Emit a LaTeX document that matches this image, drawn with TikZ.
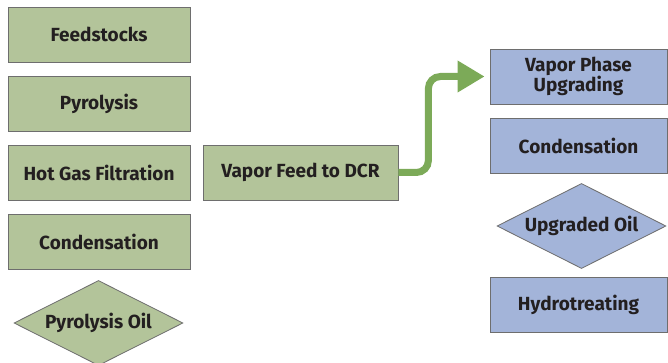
\documentclass[tikz,border=0pt]{standalone}
\usepackage{fontspec}
\setmainfont{Fira Sans}
\usetikzlibrary{shapes.geometric,arrows.meta}
\definecolor{boxgreen}{RGB}{179,196,154}
\definecolor{boxblue}{RGB}{163,180,217}
\definecolor{flowgreen}{RGB}{124,170,88}
\definecolor{edgegray}{RGB}{110,110,110}
\definecolor{inkdark}{RGB}{35,31,32}
\tikzset{
  stage/.style={draw=edgegray, line width=0.8pt, minimum height=55pt, inner sep=2pt,
    text=inkdark, align=center, font=\bfseries\fontsize{19}{19}\selectfont},
  oil/.style={stage, diamond, aspect=2, inner sep=0pt, minimum height=85pt, minimum width=169pt},
}
\begin{document}
\begin{tikzpicture}[x=1pt,y=-1pt]
\useasboundingbox (0,0) rectangle (668,363);
\node[stage, fill=boxgreen, minimum width=182pt] (1) at (99,34.5) {Feedstocks};
\node[stage, fill=boxgreen, minimum width=182pt] (2) at (99,103.5) {Pyrolysis};
\node[stage, fill=boxgreen, minimum width=182pt] (3) at (99,172.5) {Hot Gas Filtration};
\node[stage, fill=boxgreen, minimum width=182pt] (4) at (99,241.5) {Condensation};
\node[oil, fill=boxgreen] (5) at (98.5,323) {Pyrolysis Oil};
\node[stage, fill=boxgreen, minimum width=195pt] (6) at (300.5,172.5) {Vapor Feed to DCR};
\node[stage, fill=boxblue, minimum width=177pt] (7) at (578.5,76.5) {Vapor Phase\\Upgrading};
\node[stage, fill=boxblue, minimum width=177pt] (8) at (578.5,145.5) {Condensation};
\node[oil, fill=boxblue] (9) at (581.5,226) {Upgraded Oil};
\node[stage, fill=boxblue, minimum width=177pt] (10) at (578.5,304.5) {Hydrotreating};

\path[draw=flowgreen, line width=7pt, rounded corners=12pt, -{Triangle[length=27pt,width=30pt]}]
  (6.east) -- ++(30,0) |- ([xshift=-5pt]7.west);
\end{tikzpicture}
\end{document}
